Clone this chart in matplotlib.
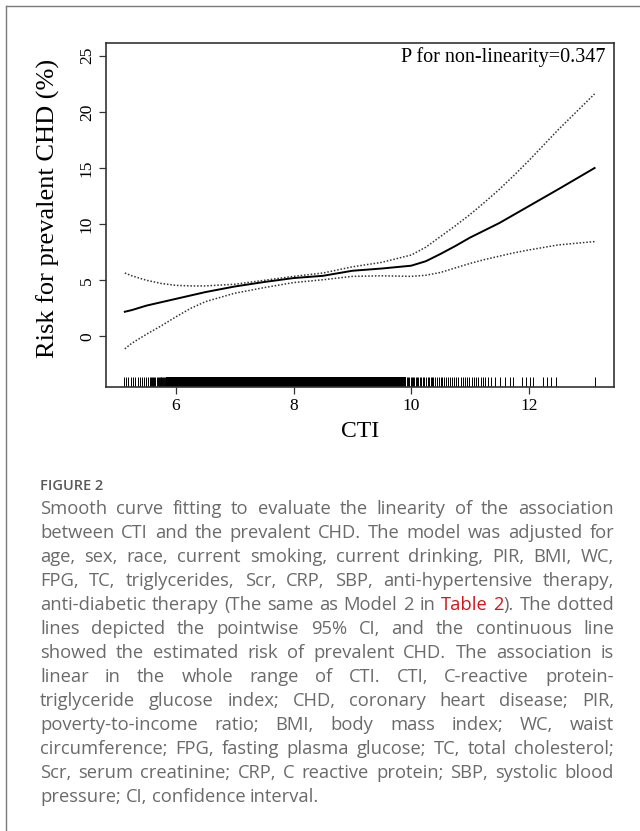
import numpy as np
import matplotlib
matplotlib.use("Agg")
import matplotlib.pyplot as plt
from matplotlib.lines import Line2D

# values
cti = [5.13, 5.25, 5.5, 5.75, 6.0, 6.25, 6.5, 7.0, 7.5, 8.0, 8.5, 9.0, 9.5,
       10.0, 10.25, 10.5, 10.75, 11.0, 11.25, 11.5, 11.75, 12.0, 12.5, 13.12]
risk = [2.2, 2.35, 2.75, 3.05, 3.35, 3.65, 3.95, 4.45, 4.85, 5.2, 5.4, 5.85, 6.05,
        6.3, 6.7, 7.35, 8.05, 8.8, 9.45, 10.1, 10.85, 11.6, 13.1, 15.0]
ci_upper = [5.65, 5.4, 5.0, 4.72, 4.55, 4.5, 4.5, 4.65, 5.0, 5.35, 5.65, 6.2, 6.6,
            7.25, 7.95, 8.9, 9.85, 10.85, 11.95, 13.1, 14.35, 15.65, 18.4, 21.6]
ci_lower = [-1.1, -0.6, 0.2, 0.95, 1.75, 2.5, 3.1, 3.85, 4.35, 4.8, 5.05, 5.35, 5.4,
            5.35, 5.45, 5.7, 6.1, 6.5, 6.85, 7.15, 7.45, 7.7, 8.15, 8.45]

rug_left = [5.11, 5.15, 5.19, 5.23, 5.27, 5.31, 5.35, 5.39, 5.43, 5.46, 5.49, 5.52,
            5.55, 5.57, 5.59, 5.61, 5.63, 5.65, 5.67, 5.69, 5.71, 5.72, 5.74, 5.75,
            5.77, 5.78, 5.80, 5.81, 5.83]
rug_dense = (5.83, 9.91)
rug_right = [9.93, 9.95, 9.97, 9.99, 10.01, 10.03, 10.05, 10.08, 10.10, 10.12, 10.15,
             10.17, 10.20, 10.22, 10.25, 10.28, 10.30, 10.33, 10.36, 10.38, 10.41,
             10.44, 10.47, 10.50, 10.53, 10.56, 10.60, 10.63, 10.66, 10.70, 10.73,
             10.77, 10.80, 10.84, 10.88, 10.91, 10.95, 10.99, 11.03, 11.07, 11.10,
             11.14, 11.18, 11.22, 11.26, 11.30, 11.35, 11.42, 11.51, 11.60, 11.68,
             11.73, 11.89, 11.96, 12.02, 12.08, 12.24, 12.31, 12.37, 12.47, 13.13]

x_ticks = [6, 8, 10, 12]
y_ticks = [0, 5, 10, 15, 20, 25]

caption_title = "FIGURE 2"
caption_lines = [
    "Smooth curve fitting to evaluate the linearity of the association",
    "between CTI and the prevalent CHD. The model was adjusted for",
    "age, sex, race, current smoking, current drinking, PIR, BMI, WC,",
    "FPG, TC, triglycerides, Scr, CRP, SBP, anti-hypertensive therapy,",
    "anti-diabetic therapy (The same as Model 2 in Table# 2#). The dotted",
    "lines depicted the pointwise 95% CI, and the continuous line",
    "showed the estimated risk of prevalent CHD. The association is",
    "linear in the whole range of CTI. CTI, C-reactive protein-",
    "triglyceride glucose index; CHD, coronary heart disease; PIR,",
    "poverty-to-income ratio; BMI, body mass index; WC, waist",
    "circumference; FPG, fasting plasma glucose; TC, total cholesterol;",
    "Scr, serum creatinine; CRP, C reactive protein; SBP, systolic blood",
    "pressure; CI, confidence interval.",
]

W, H = 640, 831
fig = plt.figure(figsize=(W / 100, H / 100), dpi=100)
serif = "Liberation Serif"

# page frame (left and top)
fig.add_artist(Line2D([6 / W, 6 / W], [0, 1 - 5.5 / H], color="#7a7a7a", lw=1.0))
fig.add_artist(Line2D([6 / W, 1], [1 - 5.5 / H, 1 - 5.5 / H], color="#7a7a7a", lw=1.0))

ax = fig.add_axes([106 / W, 1 - 387 / H, (614 - 106) / W, (387 - 43) / H])
ax.plot(cti, risk, color="black", lw=1.4)
ax.plot(cti, ci_upper, color="#333333", lw=1.1, ls=(0, (1, 1.2)))
ax.plot(cti, ci_lower, color="#333333", lw=1.1, ls=(0, (1, 1.2)))

# rug
rug_h = 0.03
ax.vlines(rug_left + rug_right, 0, rug_h, transform=ax.get_xaxis_transform(),
          color="black", lw=0.7)
ax.axvspan(rug_dense[0], rug_dense[1], ymin=0, ymax=rug_h, color="black", lw=0)

ax.set_xlim(4.81, 13.45)
ax.set_ylim(-4.5, 26.13)
ax.set_xticks(x_ticks)
ax.set_yticks(y_ticks)
ax.set_xticklabels([str(v) for v in x_ticks], fontfamily=serif, fontsize=12.5)
ax.set_yticklabels([str(v) for v in y_ticks], fontfamily=serif, fontsize=12.5,
                   rotation=90, va="center")
ax.tick_params(direction="out", length=5, width=0.9, color="#333333", pad=3)
for s in ax.spines.values():
    s.set_linewidth(1.2)
    s.set_color("#333333")

ax.set_xlabel("CTI", fontfamily=serif, fontsize=17, labelpad=5)
ax.set_ylabel("Risk for prevalent CHD (%)", fontfamily=serif, fontsize=19)
ax.yaxis.set_label_coords(-0.09, 0.52)
ax.text(0.984, 0.96, "P for non-linearity=0.347", transform=ax.transAxes,
        ha="right", va="center", fontfamily=serif, fontsize=14.5)

# caption
gray = "#6a6a6a"
red = "#d7141a"
cap_font = dict(fontfamily="Open Sans", fontsize=13.2)
fig.text(40 / W, 1 - 486 / H, caption_title, color="#5a5a5a", fontfamily="Open Sans",
         fontsize=10.5, fontweight="semibold", va="center")

renderer = fig.canvas.get_renderer()


def width_px(s):
    t = fig.text(0, 0, s, **cap_font)
    w = t.get_window_extent(renderer).width
    t.remove()
    return w


left, right = 40, 614
space = width_px("a a") - width_px("aa")
y0, dy = 509, 24.0
for i, line in enumerate(caption_lines):
    words = line.split(" ")
    # each word is a list of (text, colour) pieces, '#' marks a red piece
    pieces = []
    for w in words:
        if "#" in w:
            a, b = w.split("#")
            pieces.append([(a, red), (b, gray)] if b else [(a, red)])
        else:
            pieces.append([(w, gray)])
    widths = [sum(width_px(p) for p, _ in wp) for wp in pieces]
    if i < len(caption_lines) - 1 and len(words) > 1:
        gap = (right - left - sum(widths)) / (len(words) - 1)
    else:
        gap = space
    x = left
    y = 1 - (y0 + i * dy) / H
    for wp, wd in zip(pieces, widths):
        xx = x
        for p, c in wp:
            if p:
                fig.text(xx / W, y, p, color=c, va="center", **cap_font)
                xx += width_px(p)
        x += wd + gap

fig.savefig("out.png", dpi=100)
